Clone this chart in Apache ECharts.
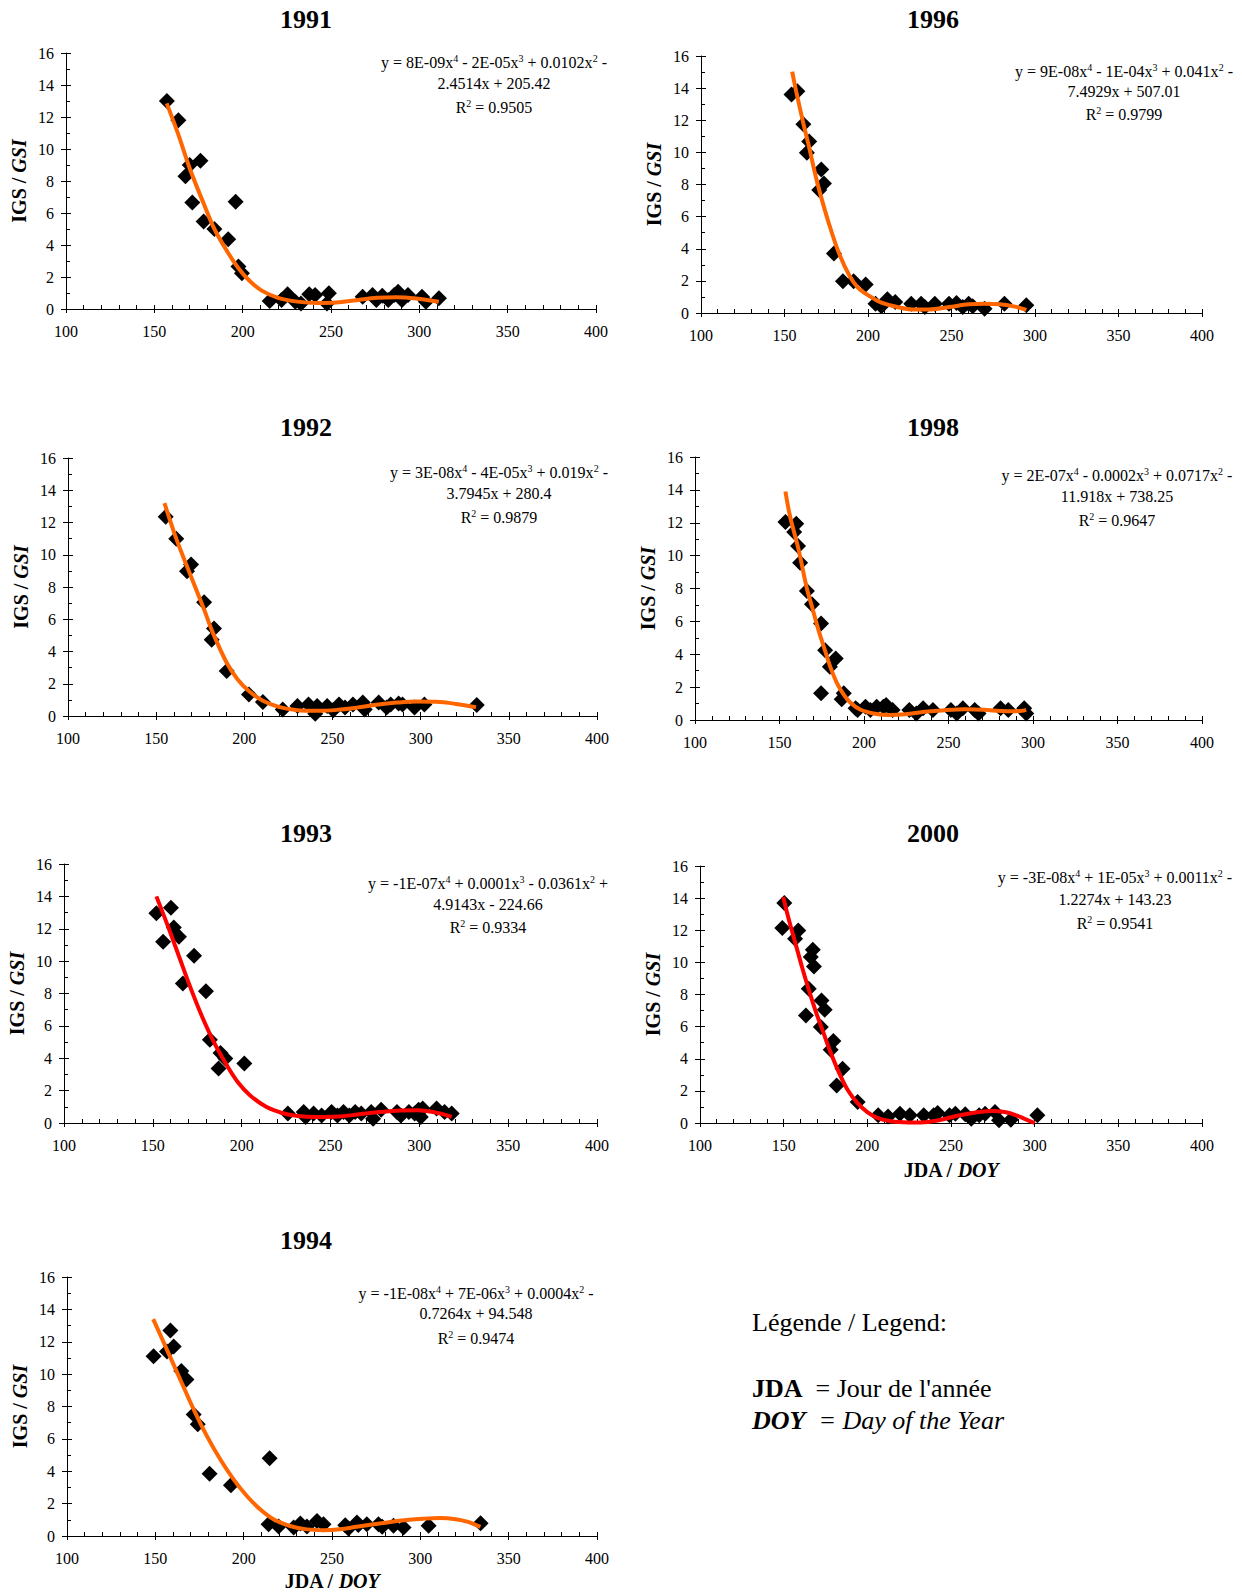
<!DOCTYPE html>
<html>
<head>
<meta charset="utf-8">
<script src="https://cdn.jsdelivr.net/npm/echarts@6/dist/echarts.min.js"></script>
<style>html,body{margin:0;padding:0;background:#fff}#c{width:1242px;height:1592px}</style>
</head>
<body>
<div id="c"></div>
<script>
// ---------------- DATA ----------------
const years = ['1991', '1996', '1992', '1998', '1993', '2000', '1994'];
const xTickMin = 100, xTickMax = 400, xTickStep = 50;
const yTickMin = 0, yTickMax = 16, yTickStep = 2;

const doy1991 = [157.1,163.6,167.6,170.0,171.5,176.1,177.9,184.0,191.8,196.0,197.6,199.6,215.3,222.0,225.4,229.8,233.0,237.7,241.0,247.7,248.8,267.9,273.5,275.7,279.0,282.4,285.8,288.0,290.2,293.6,301.5,303.7,311.1];
const gsi1991 = [13.0,11.8,8.3,9.0,6.65,9.26,5.47,5.0,4.36,6.7,2.65,2.23,0.5,0.56,0.92,0.46,0.35,0.92,0.88,0.35,0.98,0.77,0.88,0.56,0.83,0.56,0.88,1.08,0.56,0.88,0.77,0.46,0.67];
const fitDoy1991 = [157,163.6,170,177.7,184,191.8,197.6,204,210.8,220,231,242,253,264.5,276,287,298,311];
const fitGsi1991 = [12.85,10.9,8.8,6.65,5.0,3.5,2.55,1.75,1.15,0.7,0.46,0.37,0.4,0.55,0.7,0.74,0.66,0.45];

const doy1996 = [154.2,157.7,161.3,164.8,163.4,172.0,173.6,170.8,179.6,185.0,191.4,198.6,204.5,208.0,211.6,216.3,225.9,231.8,234.0,240.0,248.5,253.0,256.7,260.3,262.7,269.8,281.7,294.8];
const gsi1996 = [13.6,13.8,11.75,10.67,9.98,8.94,8.07,7.65,3.7,1.97,1.97,1.77,0.58,0.42,0.85,0.69,0.58,0.58,0.37,0.58,0.58,0.62,0.37,0.58,0.42,0.27,0.58,0.48];
const fitDoy1996 = [154.6,157,161.3,164.8,167.8,170.8,176.5,182.7,189,193.8,198.6,203.3,208,217.6,227,236.6,248.5,260.3,269.8,279.3,288.8,294.8];
const fitGsi1996 = [15.03,13.8,11.8,10.3,8.9,7.65,5.6,3.7,2.3,1.6,1.2,0.9,0.65,0.37,0.22,0.22,0.37,0.54,0.58,0.54,0.38,0.2];

const doy1992 = [155.4,161.4,167.5,169.8,177.2,182.8,181.5,190.0,202.6,210.5,221.8,230.1,236.4,240.2,241.3,247.0,250.4,253.7,257.1,261.6,267.2,268.3,276.2,280.7,283.0,287.5,289.7,296.5,302.1,331.8];
const gsi1992 = [12.35,11.0,8.98,9.39,7.06,5.43,4.73,2.79,1.34,0.87,0.41,0.62,0.72,0.14,0.62,0.62,0.35,0.72,0.52,0.72,0.83,0.41,0.83,0.52,0.72,0.78,0.72,0.52,0.72,0.68];
const fitDoy1992 = [154.7,161.4,168.5,177.2,182,190,196,202.6,210.5,220,230,241,252.6,263.9,275,286.4,297.6,308.9,320,331.4];
const fitGsi1992 = [13.2,11.0,9.0,6.6,5.2,3.3,2.3,1.55,0.95,0.55,0.36,0.32,0.38,0.52,0.7,0.83,0.9,0.88,0.75,0.55];

const doy1998 = [153.5,159.9,158.7,161.0,162.2,166.2,169.2,174.6,177.0,183.3,179.8,174.6,188.0,186.8,195.0,196.2,200.9,203.8,207.5,211.5,213.1,216.9,226.8,231.0,235.0,240.8,251.4,254.9,258.5,265.5,267.8,280.8,285.4,294.8,296.0];
const gsi1998 = [12.05,11.94,11.44,10.59,9.57,7.85,7.04,5.87,4.25,3.74,3.24,1.62,1.62,1.26,0.71,0.61,0.81,0.61,0.81,0.81,0.91,0.61,0.61,0.4,0.71,0.61,0.61,0.4,0.71,0.61,0.4,0.71,0.61,0.71,0.4];
const fitDoy1998 = [153.5,156,158.7,161,162.5,166.2,169.2,173,177,180,184,188,192,198,205.6,215,224.4,236,248,260,271,281,290,296];
const fitGsi1998 = [13.9,12.5,11.4,10.5,9.8,8.0,6.9,5.5,4.2,3.25,2.25,1.55,1.05,0.62,0.4,0.3,0.35,0.5,0.6,0.65,0.62,0.55,0.53,0.6];

const doy1993 = [152.0,155.8,160.2,161.8,164.7,166.9,173.2,179.9,182.1,187.0,188.1,190.8,201.5,226.0,234.9,236.0,240.5,245.0,250.6,253.9,257.3,260.6,263.9,267.3,272.9,274.0,278.5,287.4,289.6,294.1,297.4,299.6,301.9,300.8,309.7,314.2,318.2];
const gsi1993 = [12.95,11.2,13.3,12.08,11.5,8.62,10.33,8.14,5.15,3.36,4.33,3.98,3.67,0.58,0.68,0.37,0.58,0.47,0.68,0.47,0.68,0.47,0.68,0.58,0.68,0.27,0.82,0.68,0.47,0.68,0.58,0.82,0.89,0.37,0.89,0.68,0.58];
const fitDoy1993 = [152,158,164.7,171.4,178,184.8,191.5,198,204.8,213.8,222.7,231.6,242.8,253.9,265,276,287,298.5,305,312,318.2];
const fitGsi1993 = [14.0,12.3,10.3,8.3,6.5,4.9,3.6,2.5,1.7,1.0,0.62,0.43,0.37,0.4,0.52,0.66,0.76,0.78,0.72,0.58,0.38];

const doy2000 = [150.4,149.2,158.7,156.8,165.0,163.3,167.4,166.2,168.1,172.6,174.5,172.2,179.7,178.1,185.2,181.7,194.2,206.5,212.4,219.5,225.4,233.7,239.6,242.0,249.1,252.6,258.5,262.1,266.8,270.4,276.3,278.7,285.8,301.6];
const gsi2000 = [13.69,12.14,11.99,11.47,8.36,6.7,10.79,10.33,9.75,7.63,7.05,5.98,5.1,4.56,3.38,2.34,1.31,0.48,0.41,0.58,0.48,0.48,0.48,0.62,0.48,0.58,0.54,0.27,0.48,0.58,0.68,0.17,0.21,0.48];
const fitDoy2000 = [149.7,153,157,161,165,169,173.5,178,182.8,188,194,200,206,213,222,232,242,253.8,265.6,275,282,289,295,300];
const fitGsi2000 = [14.07,12.7,11.2,9.7,8.3,7.0,5.7,4.4,3.2,2.1,1.25,0.68,0.32,0.13,0.05,0.03,0.15,0.45,0.67,0.75,0.68,0.48,0.21,0.0];

const doy1994 = [149.0,158.5,160.4,156.6,164.7,167.6,171.7,174.0,180.7,192.8,214.7,214.1,219.8,228.3,232.1,235.8,241.5,245.2,257.5,259.3,264.1,264.9,269.7,276.3,278.4,284.8,290.5,304.7,334.1];
const gsi1994 = [11.1,12.7,11.7,11.4,10.2,9.67,7.51,6.9,3.85,3.13,4.8,0.73,0.58,0.52,0.77,0.58,0.92,0.73,0.67,0.47,0.83,0.68,0.73,0.73,0.57,0.63,0.52,0.63,0.78];
const fitDoy1994 = [148.8,156.6,164.1,171.7,179.2,186.8,194.3,201.8,209.3,216.9,226.3,235.8,245.2,254.6,264,273.5,282.9,292.3,301.7,311,320,327,334];
const fitGsi1994 = [13.4,11.5,9.67,7.82,6.17,4.73,3.5,2.47,1.65,1.03,0.62,0.41,0.36,0.42,0.57,0.72,0.87,0.99,1.07,1.11,1.04,0.87,0.56];

const eq1991 = ['y = 8E-09x{s|4} - 2E-05x{s|3} + 0.0102x{s|2} -', '2.4514x + 205.42', 'R{s|2} = 0.9505'];
const eq1996 = ['y = 9E-08x{s|4} - 1E-04x{s|3} + 0.041x{s|2} -', '7.4929x + 507.01', 'R{s|2} = 0.9799'];
const eq1992 = ['y = 3E-08x{s|4} - 4E-05x{s|3} + 0.019x{s|2} -', '3.7945x + 280.4', 'R{s|2} = 0.9879'];
const eq1998 = ['y = 2E-07x{s|4} - 0.0002x{s|3} + 0.0717x{s|2} -', '11.918x + 738.25', 'R{s|2} = 0.9647'];
const eq1993 = ['y = -1E-07x{s|4} + 0.0001x{s|3} - 0.0361x{s|2} +', '4.9143x - 224.66', 'R{s|2} = 0.9334'];
const eq2000 = ['y = -3E-08x{s|4} + 1E-05x{s|3} + 0.0011x{s|2} -', '1.2274x + 143.23', 'R{s|2} = 0.9541'];
const eq1994 = ['y = -1E-08x{s|4} + 7E-06x{s|3} + 0.0004x{s|2} -', '0.7264x + 94.548', 'R{s|2} = 0.9474'];

const yAxisTitle = '{b|IGS / }{bi|GSI}';
const xAxisTitle = '{b|JDA / }{bi|DOY}';
const legendTitle = 'Légende / Legend:';
const legendJDA = ['JDA', '  = Jour de l\'année'];
const legendDOY = ['DOY', '  = Day of the Year'];

// ---------------- LAYOUT / STYLE ----------------
const ORANGE = '#FF6600', RED = '#FF0000';
const serif = "'Liberation Serif','Times New Roman',serif";
const panels = [
  {doy: doy1991, gsi: gsi1991, fx: fitDoy1991, fy: fitGsi1991, eq: eq1991, color: ORANGE},
  {doy: doy1996, gsi: gsi1996, fx: fitDoy1996, fy: fitGsi1996, eq: eq1996, color: ORANGE},
  {doy: doy1992, gsi: gsi1992, fx: fitDoy1992, fy: fitGsi1992, eq: eq1992, color: ORANGE},
  {doy: doy1998, gsi: gsi1998, fx: fitDoy1998, fy: fitGsi1998, eq: eq1998, color: ORANGE},
  {doy: doy1993, gsi: gsi1993, fx: fitDoy1993, fy: fitGsi1993, eq: eq1993, color: RED},
  {doy: doy2000, gsi: gsi2000, fx: fitDoy2000, fy: fitGsi2000, eq: eq2000, color: RED},
  {doy: doy1994, gsi: gsi1994, fx: fitDoy1994, fy: fitGsi1994, eq: eq1994, color: ORANGE}
];
const layout = [
  {left: 66,  top: 53,   width: 530, height: 256, tx: 306, ty: 19,   ex: 494,  ey: [62, 83, 107]},
  {left: 701, top: 56,   width: 501, height: 257, tx: 933, ty: 19,   ex: 1124, ey: [71, 91, 114]},
  {left: 68,  top: 458,  width: 529, height: 258, tx: 306, ty: 427,  ex: 499,  ey: [472, 493, 517]},
  {left: 695, top: 457,  width: 507, height: 263, tx: 933, ty: 427,  ex: 1117, ey: [475, 496, 520]},
  {left: 64,  top: 864,  width: 533, height: 259, tx: 306, ty: 833,  ex: 488,  ey: [883, 904, 927]},
  {left: 700, top: 866,  width: 502, height: 257, tx: 933, ty: 833,  ex: 1115, ey: [877, 899, 923], xName: true, xGap: 37},
  {left: 67,  top: 1277, width: 530, height: 259, tx: 306, ty: 1240, ex: 476,  ey: [1293, 1313, 1338], xName: true, xGap: 35}
];

const nameRich = {
  b: {fontFamily: serif, fontSize: 20, fontWeight: 'bold', color: '#000'},
  bi: {fontFamily: serif, fontSize: 20, fontWeight: 'bold', fontStyle: 'italic', color: '#000'}
};

const grid = [], xAxis = [], yAxis = [], series = [], graphic = [];

panels.forEach((p, i) => {
  const L = layout[i];
  grid.push({left: L.left, top: L.top, width: L.width, height: L.height, containLabel: false});

  const xb = {gridIndex: i, type: 'value', min: xTickMin, max: xTickMax, interval: xTickStep, position: 'bottom', splitLine: {show: false}};
  xAxis.push(Object.assign({}, xb, {
    axisLine: {show: true, onZero: false, lineStyle: {color: '#000', width: 1}},
    axisTick: {show: true, inside: false, length: 4, lineStyle: {color: '#000', width: 1}},
    minorTick: {show: false},
    axisLabel: {show: true, color: '#000', fontFamily: serif, fontSize: 16, margin: 14},
    name: L.xName ? xAxisTitle : '',
    nameLocation: 'middle', nameGap: L.xGap || 30,
    nameTextStyle: {fontFamily: serif, fontSize: 20, fontWeight: 'bold', color: '#000', rich: nameRich}
  }));
  xAxis.push(Object.assign({}, xb, {
    axisLine: {show: false, onZero: false},
    axisTick: {show: true, inside: true, length: 4, lineStyle: {color: '#000', width: 1}},
    minorTick: {show: true, splitNumber: 5, length: 4, lineStyle: {color: '#000', width: 1}},
    axisLabel: {show: false}
  }));

  const yb = {gridIndex: i, type: 'value', min: yTickMin, max: yTickMax, interval: yTickStep, position: 'left', splitLine: {show: false}};
  yAxis.push(Object.assign({}, yb, {
    axisLine: {show: true, onZero: false, lineStyle: {color: '#000', width: 1}},
    axisTick: {show: true, inside: false, length: 5, lineStyle: {color: '#000', width: 1}},
    minorTick: {show: false},
    axisLabel: {show: true, color: '#000', fontFamily: serif, fontSize: 16, margin: 12},
    name: yAxisTitle, nameLocation: 'middle', nameGap: 37, nameRotate: 90,
    nameTextStyle: {fontFamily: serif, fontSize: 20, fontWeight: 'bold', color: '#000', rich: nameRich}
  }));
  yAxis.push(Object.assign({}, yb, {
    axisLine: {show: false, onZero: false},
    axisTick: {show: true, inside: true, length: 5, lineStyle: {color: '#000', width: 1}},
    minorTick: {show: true, splitNumber: 2, length: 4, lineStyle: {color: '#000', width: 1}},
    axisLabel: {show: false}
  }));

  series.push({
    type: 'scatter', xAxisIndex: 2 * i, yAxisIndex: 2 * i,
    data: p.doy.map((d, k) => [d, p.gsi[k]]),
    symbol: 'diamond', symbolSize: 16,
    itemStyle: {color: '#000', opacity: 1}, z: 2, silent: true
  });
  series.push({
    type: 'line', xAxisIndex: 2 * i, yAxisIndex: 2 * i,
    data: p.fx.map((d, k) => [d, p.fy[k]]),
    smooth: 0.35, symbol: 'none', showSymbol: false, clip: true,
    lineStyle: {color: p.color, width: 4, opacity: 1}, z: 3, silent: true
  });

  graphic.push({
    type: 'text', silent: true,
    style: {text: years[i], x: L.tx, y: L.ty, fill: '#000', fontFamily: serif, fontSize: 26, fontWeight: 'bold', align: 'center', verticalAlign: 'middle'}
  });
  p.eq.forEach((line, k) => {
    graphic.push({
      type: 'text', silent: true,
      style: {
        text: line, x: L.ex, y: L.ey[k], fill: '#000', fontFamily: serif, fontSize: 16, lineHeight: 18,
        align: 'center', verticalAlign: 'middle',
        rich: {s: {fontFamily: serif, fontSize: 10, lineHeight: 18, verticalAlign: 'top', fill: '#000'}}
      }
    });
  });
});

graphic.push({
  type: 'text', silent: true,
  style: {text: legendTitle, x: 752, y: 1322, fill: '#000', fontFamily: serif, fontSize: 26, align: 'left', verticalAlign: 'middle'}
});
graphic.push({
  type: 'text', silent: true,
  style: {
    text: '{b|' + legendJDA[0] + '}{n|' + legendJDA[1] + '}', x: 752, y: 1388, align: 'left', verticalAlign: 'middle',
    rich: {
      b: {fontFamily: serif, fontSize: 26, fontWeight: 'bold', fill: '#000'},
      n: {fontFamily: serif, fontSize: 26, fill: '#000'}
    }
  }
});
graphic.push({
  type: 'text', silent: true,
  style: {
    text: '{b|' + legendDOY[0] + '}{n|' + legendDOY[1] + '}', x: 752, y: 1420, align: 'left', verticalAlign: 'middle',
    rich: {
      b: {fontFamily: serif, fontSize: 26, fontWeight: 'bold', fontStyle: 'italic', fill: '#000'},
      n: {fontFamily: serif, fontSize: 26, fontStyle: 'italic', fill: '#000'}
    }
  }
});

const chart = echarts.init(document.getElementById('c'), null, {renderer: 'svg', width: 1242, height: 1592});
chart.setOption({
  animation: false,
  backgroundColor: '#fff',
  grid, xAxis, yAxis, series, graphic
});
</script>
</body>
</html>
